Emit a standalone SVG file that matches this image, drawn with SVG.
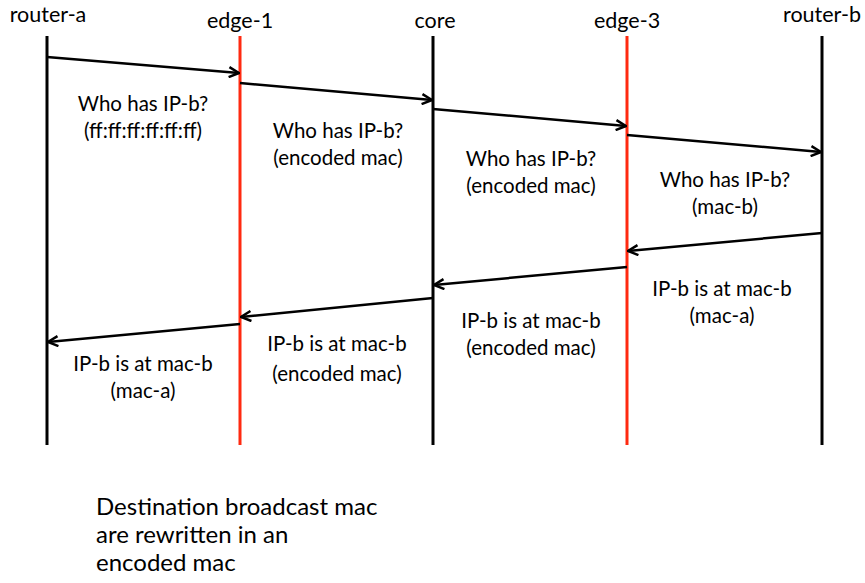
<svg xmlns="http://www.w3.org/2000/svg" width="865" height="583" viewBox="0 0 865 583">
<style>
text{font-family:Lato,"Open Sans","Liberation Sans",sans-serif;font-size:20.5px;fill:#000}
.lbl{text-anchor:middle}
.hd{font-size:21.5px}
.note{font-size:24px}
.life{stroke:#000;stroke-width:3;fill:none}
.red{stroke:#ff2a10}
.msg{stroke:#000;stroke-width:2.5;fill:none;marker-end:url(#ah)}
</style>
<defs>
<marker id="ah" viewBox="0 0 12 12" refX="11" refY="6" markerWidth="12" markerHeight="12" markerUnits="userSpaceOnUse" orient="auto">
<path d="M1,1 L11,6 L1,11" fill="none" stroke="#000" stroke-width="2.5"/>
</marker>
</defs>
<rect width="865" height="583" fill="#fff"/>
<g id="router-a"><text class="lbl hd" x="48" y="22">router-a</text><line class="life" x1="47" y1="36" x2="47" y2="445"/></g>
<g id="edge-1"><text class="lbl hd" x="240" y="28">edge-1</text><line class="life red" x1="240" y1="36" x2="240" y2="445"/></g>
<g id="core"><text class="lbl hd" x="435" y="28">core</text><line class="life" x1="433" y1="36" x2="433" y2="445"/></g>
<g id="edge-3"><text class="lbl hd" x="627" y="28">edge-3</text><line class="life red" x1="627" y1="36" x2="627" y2="445"/></g>
<g id="router-b"><text class="lbl hd" x="822" y="22">router-b</text><line class="life" x1="822" y1="36" x2="822" y2="445"/></g>
<g id="connectors">
<line class="msg" x1="47" y1="57" x2="239" y2="73"/>
<line class="msg" x1="240" y1="83" x2="432" y2="100"/>
<line class="msg" x1="433" y1="109" x2="626" y2="126"/>
<line class="msg" x1="627" y1="135" x2="821" y2="152"/>
<line class="msg" x1="822" y1="233" x2="628" y2="251"/>
<line class="msg" x1="627" y1="267" x2="434" y2="285"/>
<line class="msg" x1="433" y1="298" x2="241" y2="317"/>
<line class="msg" x1="240" y1="324" x2="48" y2="342"/>
</g>
<g id="labels">
<text class="lbl" x="143" y="111">Who has IP-b?</text>
<text class="lbl" x="143" y="138">(ff:ff:ff:ff:ff:ff)</text>
<text class="lbl" x="338" y="138">Who has IP-b?</text>
<text class="lbl" x="338" y="165">(encoded mac)</text>
<text class="lbl" x="531" y="166">Who has IP-b?</text>
<text class="lbl" x="531" y="193">(encoded mac)</text>
<text class="lbl" x="725" y="187">Who has IP-b?</text>
<text class="lbl" x="725" y="214">(mac-b)</text>
<text class="lbl" x="722" y="296">IP-b is at mac-b</text>
<text class="lbl" x="722" y="323">(mac-a)</text>
<text class="lbl" x="531" y="328">IP-b is at mac-b</text>
<text class="lbl" x="531" y="355">(encoded mac)</text>
<text class="lbl" x="337" y="351">IP-b is at mac-b</text>
<text class="lbl" x="337" y="381">(encoded mac)</text>
<text class="lbl" x="143" y="371">IP-b is at mac-b</text>
<text class="lbl" x="143" y="398">(mac-a)</text>
</g>
<g id="note">
<text class="note" x="96" y="515">Destination broadcast mac</text>
<text class="note" x="96" y="543">are rewritten in an</text>
<text class="note" x="96" y="571">encoded mac</text>
</g>
</svg>
